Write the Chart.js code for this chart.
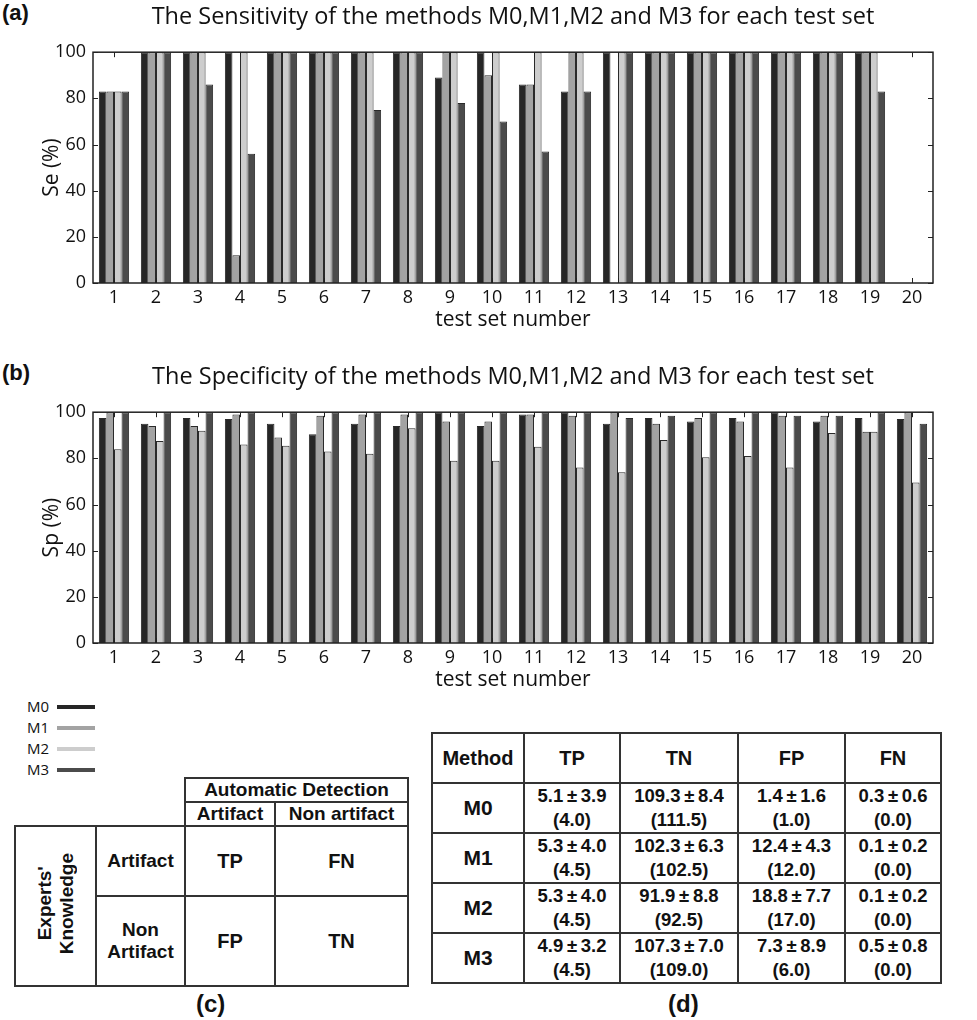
<!DOCTYPE html>
<html>
<head>
<meta charset="utf-8">
<script src="https://cdn.jsdelivr.net/npm/chart.js@4.4.0/dist/chart.umd.min.js"></script>
<style>
    body { margin: 0; background: #fff; }
    #page { position: relative; width: 977px; height: 1020px; overflow: hidden; font-family: 'Liberation Sans', Arial, sans-serif; color: #111; }
    .panel { position: absolute; font-weight: bold; font-size: 22px; }
    canvas { position: absolute; left: 0; }
    #legend { position: absolute; left: 27px; top: 696px; font-family: 'Open Sans', sans-serif; font-size: 15px; }
    .leg { position: relative; height: 21px; line-height: 21px; }
    .leg .sw { position: absolute; left: 30px; top: 9px; width: 38px; height: 4px; }
    table { position: absolute; border-collapse: collapse; table-layout: fixed; font-weight: bold; }
    td { border: 2px solid #333; text-align: center; vertical-align: middle; padding: 0; }
    td.none { border: none; }
    #tc td { font-size: 19px; line-height: 22px; }
    #tc td.big { font-size: 20px; }
    .rot { writing-mode: vertical-rl; transform: rotate(180deg); display: inline-block; text-align: center; }
    #td td { font-size: 18.5px; line-height: 24px; }
    #td td.hd { font-size: 20px; }
    #td td.m { font-size: 21px; }
</style>
</head>
<body>
<div id="page">
    <div class="panel" style="left:2px; top:0px;">(a)</div>
    <canvas id="chartSe" width="977" height="335" style="top:0px"></canvas>
    <div class="panel" style="left:2px; top:360px;">(b)</div>
    <canvas id="chartSp" width="977" height="335" style="top:360px"></canvas>

    <div id="legend"></div>

    <table id="tc" style="left:14px; top:777px; width:393px;">
        <colgroup><col style="width:81px"><col style="width:89px"><col style="width:90px"><col style="width:133px"></colgroup>
        <tr style="height:23px"><td class="none" colspan="2" rowspan="2"></td><td colspan="2">Automatic Detection</td></tr>
        <tr style="height:23px"><td>Artifact</td><td>Non artifact</td></tr>
        <tr style="height:70px"><td rowspan="2"><div class="rot">Experts'<br>Knowledge</div></td><td>Artifact</td><td class="big">TP</td><td class="big">FN</td></tr>
        <tr style="height:90px"><td>Non<br>Artifact</td><td class="big">FP</td><td class="big">TN</td></tr>
    </table>
    <div class="panel" style="left:196px; top:990px; font-size:24px;">(c)</div>

    <table id="td" style="left:431px; top:732px; width:509px;">
        <colgroup><col style="width:92px"><col style="width:96px"><col style="width:118px"><col style="width:107px"><col style="width:96px"></colgroup>
    </table>
    <div class="panel" style="left:668px; top:990px; font-size:24px;">(d)</div>
</div>

<script>
var testSets = ['1', '2', '3', '4', '5', '6', '7', '8', '9', '10', '11', '12', '13', '14', '15', '16', '17', '18', '19', '20'];
var yTickValues = [0, 20, 40, 60, 80, 100];
var methodNames = ['M0', 'M1', 'M2', 'M3'];
var methodColors = ['#262626', '#a3a3a3', '#cdcdcd', '#4b4b4b'];

// sensitivity (%) per test set
var seM0 = [83, 100, 100, 100, 100, 100, 100, 100, 89, 100, 86, 83, 100, 100, 100, 100, 100, 100, 100, 0];
var seM1 = [83, 100, 100, 12, 100, 100, 100, 100, 100, 90, 86, 100, 0, 100, 100, 100, 100, 100, 100, 0];
var seM2 = [83, 100, 100, 100, 100, 100, 100, 100, 100, 100, 100, 100, 100, 100, 100, 100, 100, 100, 100, 0];
var seM3 = [83, 100, 86, 56, 100, 100, 75, 100, 78, 70, 57, 83, 100, 100, 100, 100, 100, 100, 83, 0];

// specificity (%) per test set
var spM0 = [97.5, 95, 97.5, 97, 95, 90.5, 95, 94, 100, 94, 99, 100, 95, 97.5, 96, 97.5, 100, 96, 97.5, 97];
var spM1 = [100, 94, 94, 99, 89, 98.5, 99, 99, 96, 96, 99, 98.5, 100, 95, 97.5, 96, 98.5, 98.5, 91.5, 100];
var spM2 = [84, 87.5, 92, 86, 85.5, 83, 82, 93, 79, 79, 85, 76, 74, 88, 80.5, 81, 76, 91, 91.5, 69.5];
var spM3 = [100, 100, 100, 100, 100, 100, 100, 100, 100, 100, 100, 100, 97.5, 98.5, 100, 100, 98.5, 98.5, 100, 95];

// table (d): mean ± sd and (median)
var statCols = ['TP', 'TN', 'FP', 'FN'];
var statMean = [
    ['5.1\u2009±\u20093.9', '109.3\u2009±\u20098.4', '1.4\u2009±\u20091.6', '0.3\u2009±\u20090.6'],
    ['5.3\u2009±\u20094.0', '102.3\u2009±\u20096.3', '12.4\u2009±\u20094.3', '0.1\u2009±\u20090.2'],
    ['5.3\u2009±\u20094.0', '91.9\u2009±\u20098.8', '18.8\u2009±\u20097.7', '0.1\u2009±\u20090.2'],
    ['4.9\u2009±\u20093.2', '107.3\u2009±\u20097.0', '7.3\u2009±\u20098.9', '0.5\u2009±\u20090.8']
];
var statMedian = [
    ['4.0', '111.5', '1.0', '0.0'],
    ['4.5', '102.5', '12.0', '0.0'],
    ['4.5', '92.5', '17.0', '0.0'],
    ['4.5', '109.0', '6.0', '0.0']
];

Chart.defaults.font.family = "'Open Sans', sans-serif";
Chart.defaults.color = '#111';

// box round the plot and small inward ticks, as in the original
var framePlugin = {
    id: 'frame',
    afterDatasetsDraw: function (chart) {
        var ctx = chart.ctx, a = chart.chartArea, x = chart.scales.x, y = chart.scales.y;
        ctx.save();
        ctx.strokeStyle = '#222';
        ctx.lineWidth = 1;
        y.ticks.forEach(function (t) {
            var py = Math.round(y.getPixelForValue(t.value)) + 0.5;
            ctx.beginPath();
            ctx.moveTo(a.left, py); ctx.lineTo(a.left + 5, py);
            ctx.moveTo(a.right, py); ctx.lineTo(a.right - 5, py);
            ctx.stroke();
        });
        testSets.forEach(function (l, i) {
            var px = Math.round(x.getPixelForValue(i)) + 0.5;
            ctx.beginPath();
            ctx.moveTo(px, a.bottom); ctx.lineTo(px, a.bottom - 5);
            ctx.moveTo(px, a.top); ctx.lineTo(px, a.top + 5);
            ctx.stroke();
        });
        ctx.lineWidth = 1.5;
        ctx.strokeRect(a.left, a.top, a.right - a.left, a.bottom - a.top);
        ctx.restore();
    }
};

function buildChart(canvasId, title, yTitle, series)
{
    return new Chart(document.getElementById(canvasId), {
        type: 'bar',
        data: {
            labels: testSets,
            datasets: methodNames.map(function (name, i) {
                return {
                    label: name,
                    data: series[i],
                    backgroundColor: methodColors[i],
                    borderColor: '#2a2a2a',
                    borderWidth: 1,
                    categoryPercentage: 0.72,
                    barPercentage: 1
                };
            })
        },
        options: {
            responsive: false,
            animation: false,
            layout: { padding: { left: 0, right: 44, top: 0, bottom: 0 } },
            plugins: {
                legend: { display: false },
                tooltip: { enabled: false },
                title: {
                    display: true,
                    fullSize: false,
                    text: title,
                    color: '#111',
                    font: { size: 23.5, weight: 'normal' },
                    padding: { top: 3, bottom: 21 }
                }
            },
            scales: {
                x: {
                    grid: { display: false, drawTicks: false },
                    border: { display: false },
                    ticks: { font: { size: 18 }, padding: 4, maxRotation: 0, autoSkip: false },
                    title: { display: true, text: 'test set number', font: { size: 21 }, padding: { top: 0, bottom: 2 } },
                    afterFit: function (scale) { scale.height = 52; }
                },
                y: {
                    min: 0,
                    max: 100,
                    grid: { display: false, drawTicks: false },
                    border: { display: false },
                    afterBuildTicks: function (scale) {
                        scale.ticks = yTickValues.map(function (v) { return { value: v }; });
                    },
                    ticks: { font: { size: 18 }, padding: 7 },
                    title: { display: true, text: yTitle, font: { size: 21 }, padding: { top: 39, bottom: 0 } },
                    afterFit: function (scale) { scale.width = 93; }
                }
            }
        },
        plugins: [framePlugin]
    });
}

function buildLegend()
{
    var html = '';
    methodNames.forEach(function (name, i) {
        html += '<div class="leg">' + name + '<span class="sw" style="background:' + methodColors[i] + '"></span></div>';
    });
    document.getElementById('legend').innerHTML = html;
}

function buildStatTable()
{
    var html = '<tr style="height:50px"><td class="hd">Method</td>';
    statCols.forEach(function (c) { html += '<td class="hd">' + c + '</td>'; });
    html += '</tr>';
    methodNames.forEach(function (name, i) {
        html += '<tr style="height:50px"><td class="m">' + name + '</td>';
        statCols.forEach(function (c, j) {
            html += '<td>' + statMean[i][j] + '<br>(' + statMedian[i][j] + ')</td>';
        });
        html += '</tr>';
    });
    document.getElementById('td').insertAdjacentHTML('beforeend', html);
}

buildChart('chartSe', 'The Sensitivity of the methods M0,M1,M2 and M3 for each test set', 'Se (%)', [seM0, seM1, seM2, seM3]);
buildChart('chartSp', 'The Specificity of the methods M0,M1,M2 and M3 for each test set', 'Sp (%)', [spM0, spM1, spM2, spM3]);
buildLegend();
buildStatTable();
</script>
</body>
</html>
